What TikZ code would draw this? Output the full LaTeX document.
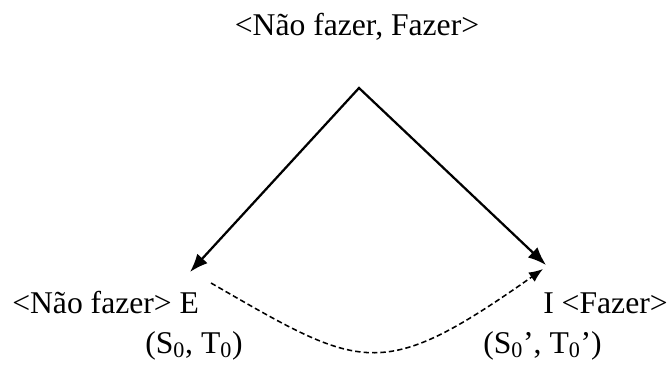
\documentclass[tikz,border=0pt]{standalone}
\usepackage{fontspec}
\setmainfont{Liberation Serif}
\usetikzlibrary{positioning,arrows.meta}
\tikzset{
  lbl/.style={inner sep=0pt, font=\fontsize{22.5}{27}\selectfont},
  flowarrow/.style={{Latex[length=13pt, width=10pt]}-{Latex[length=13pt, width=10pt]}, line width=1.6pt, line join=miter},
  dasharrow/.style={-{Latex[length=10pt, width=8pt]}, line width=1.1pt, dash pattern=on 3.8pt off 2.2pt}
}
\begin{document}
\begin{tikzpicture}[x=0.025cm, y=-0.025cm]
  \useasboundingbox (0,0) rectangle (670,374);
  % labels
  \node[lbl, anchor=base] (top) at (357,36) {<Não fazer, Fazer>};
  \node[lbl, anchor=base west] (notdo) at (12,313) {<Não fazer> E};
  \node[lbl, anchor=base west] (dodo) at (543,313) {I <Fazer>};
  \node[lbl, anchor=base west] (leftpair) at (145,353) {(S\textsubscript{0}, T\textsubscript{0})};
  \node[lbl, anchor=base west] (rightpair) at (483,353) {(S\textsubscript{0}’, T\textsubscript{0}’)};
  % arrow ends
  \coordinate (apex) at (359,88);
  \coordinate (eTip) at (190,272);
  \coordinate (iTip) at (546,265);
  \coordinate (eStart) at (211,283);
  \coordinate (iEnd) at (543,269);
  \draw[flowarrow] (eTip) -- (apex) -- (iTip);
  \draw[dasharrow] (eStart) .. controls (362,370) and (380,384) .. (iEnd);
\end{tikzpicture}
\end{document}
